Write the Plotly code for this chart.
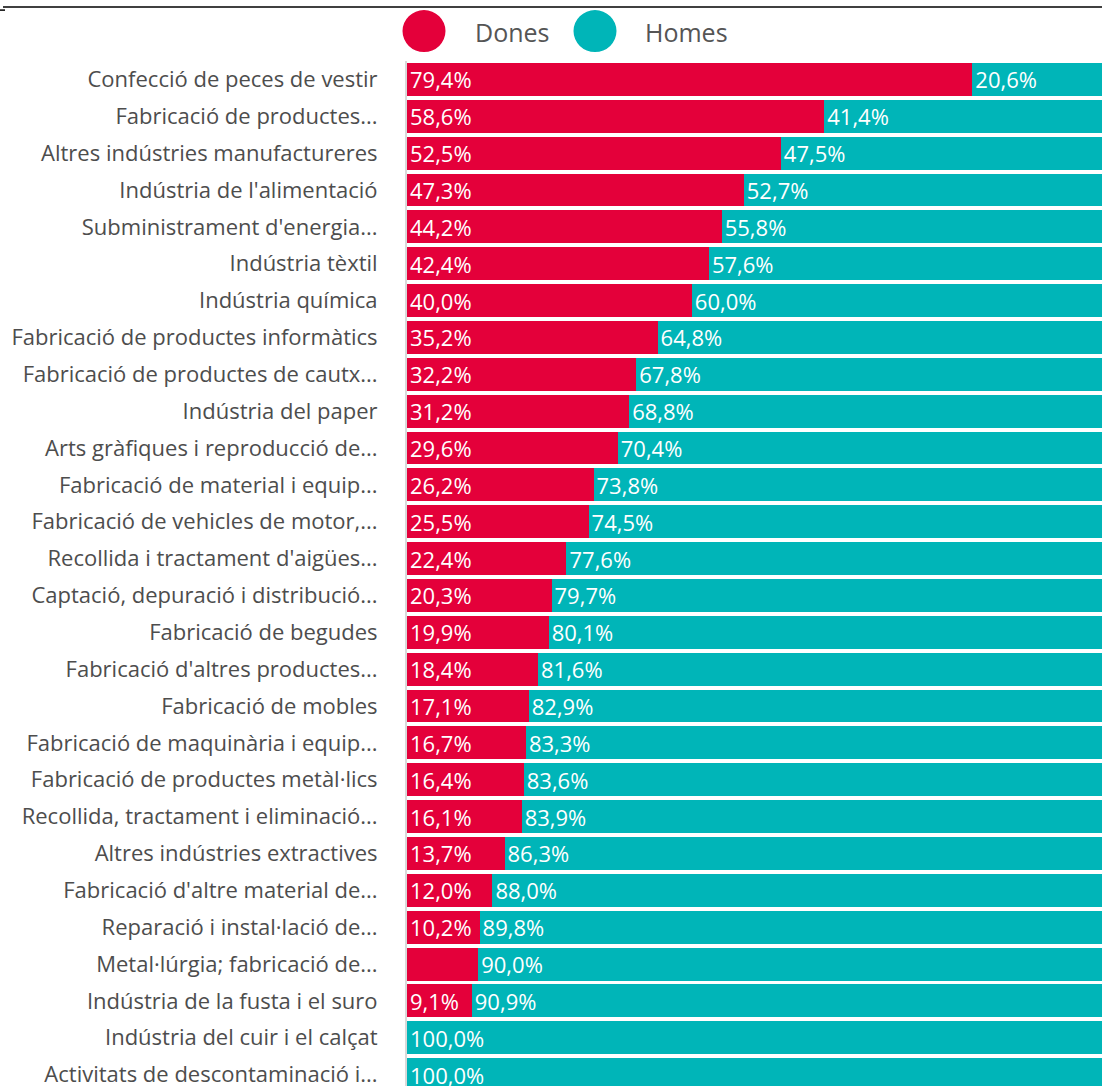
import plotly.graph_objects as go

sectors = [
    "Confecció de peces de vestir",
    "Fabricació de productes...",
    "Altres indústries manufactureres",
    "Indústria de l'alimentació",
    "Subministrament d'energia...",
    "Indústria tèxtil",
    "Indústria química",
    "Fabricació de productes informàtics",
    "Fabricació de productes de cautx...",
    "Indústria del paper",
    "Arts gràfiques i reproducció de...",
    "Fabricació de material i equip...",
    "Fabricació de vehicles de motor,...",
    "Recollida i tractament d'aigües...",
    "Captació, depuració i distribució...",
    "Fabricació de begudes",
    "Fabricació d'altres productes...",
    "Fabricació de mobles",
    "Fabricació de maquinària i equip...",
    "Fabricació de productes metàl·lics",
    "Recollida, tractament i eliminació...",
    "Altres indústries extractives",
    "Fabricació d'altre material de...",
    "Reparació i instal·lació de...",
    "Metal·lúrgia; fabricació de...",
    "Indústria de la fusta i el suro",
    "Indústria del cuir i el calçat",
    "Activitats de descontaminació i...",
]
dones = [79.4, 58.6, 52.5, 47.3, 44.2, 42.4, 40.0, 35.2, 32.2, 31.2, 29.6, 26.2, 25.5, 22.4,
         20.3, 19.9, 18.4, 17.1, 16.7, 16.4, 16.1, 13.7, 12.0, 10.2, 10.0, 9.1, 0.0, 0.0]
homes = [20.6, 41.4, 47.5, 52.7, 55.8, 57.6, 60.0, 64.8, 67.8, 68.8, 70.4, 73.8, 74.5, 77.6,
         79.7, 80.1, 81.6, 82.9, 83.3, 83.6, 83.9, 86.3, 88.0, 89.8, 90.0, 90.9, 100.0, 100.0]
# label not shown in the original
dones_hidden = ["Metal·lúrgia; fabricació de..."]

RED = "#E4003A"
TEAL = "#00B5B8"
FONT = "Open Sans"

W, H = 1102, 1088
L, T = 407, 61
PW = 712          # plot width the bars would need at 100%
ROW = 36.93


def fmt(v):
    return f"{v:.1f}%".replace(".", ",")


dones_txt = ["" if (v == 0 or s in dones_hidden) else fmt(v) for s, v in zip(sectors, dones)]
homes_txt = [fmt(v) for v in homes]

fig = go.Figure()
fig.add_trace(go.Bar(
    y=sectors, x=dones, orientation="h", name="Dones",
    marker_color=RED, marker_line_width=0,
    text=dones_txt, textposition="inside", insidetextanchor="start",
    constraintext="none", textfont=dict(color="white", size=22, family=FONT),
    showlegend=False,
))
fig.add_trace(go.Bar(
    y=sectors, x=homes, orientation="h", name="Homes",
    marker_color=TEAL, marker_line_width=0,
    text=homes_txt, textposition="inside", insidetextanchor="start",
    constraintext="none", textfont=dict(color="white", size=22, family=FONT),
    showlegend=False,
))


def px_x(px):
    return (px - L) / (W - L)


def px_y(py):
    return (H - py) / (H - T)


# top rule
fig.add_shape(type="line", xref="paper", yref="paper",
              x0=px_x(3), x1=px_x(1102), y0=px_y(7), y1=px_y(7),
              line=dict(color="black", width=1.5))
fig.add_shape(type="line", xref="paper", yref="paper",
              x0=px_x(0), x1=px_x(5), y0=px_y(10), y1=px_y(10),
              line=dict(color="black", width=1.5))

# legend
for cx, col, lab, tx in [(424, RED, "Dones", 473), (595, TEAL, "Homes", 643)]:
    fig.add_shape(type="circle", xref="paper", yref="paper",
                  x0=px_x(cx - 21.5), x1=px_x(cx + 21.5), y0=px_y(52), y1=px_y(10),
                  fillcolor=col, line_width=0)
    fig.add_annotation(xref="paper", yref="paper", x=px_x(tx), y=px_y(32),
                       text=lab, showarrow=False, xanchor="left", yanchor="middle",
                       font=dict(size=25, color="#555555", family=FONT))

fig.update_layout(
    barmode="stack", bargap=0.106,
    width=W, height=H,
    margin=dict(l=L, r=0, t=T, b=0),
    plot_bgcolor="white", paper_bgcolor="white",
    font=dict(family=FONT),
    xaxis=dict(range=[0, 100 * (W - L) / PW], visible=False, fixedrange=True),
    yaxis=dict(
        range=[-0.5 + (H - T) / ROW, -0.5],
        showline=True, linecolor="#d9d9d9", linewidth=2,
        ticks="", ticklabelstandoff=23, fixedrange=True,
        tickfont=dict(size=22, color="#4d4d4d", family=FONT),
    ),
)

fig.write_html("out.html", config={"displayModeBar": False},
               post_script="document.body.style.margin='0';")
